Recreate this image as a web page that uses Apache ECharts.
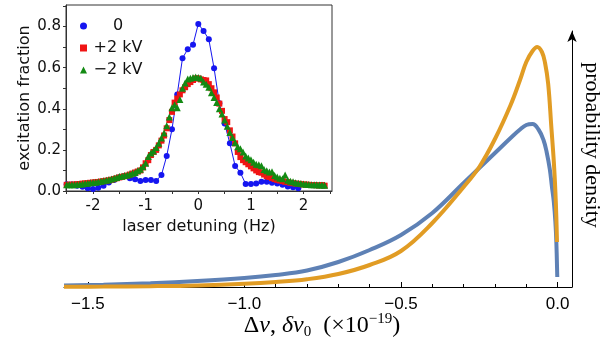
<!DOCTYPE html>
<html>
<head>
<meta charset="utf-8">
<script src="https://cdn.jsdelivr.net/npm/echarts@6/dist/echarts.min.js"></script>
<style>
  html, body { margin: 0; padding: 0; background: #fff; }
  #chart { width: 613px; height: 351px; }
</style>
</head>
<body>
<div id="chart"></div>
<script>
// main plot: frequency shift (x1e-19) vs probability density (arb.)
const shiftBlue = [-1.576, -1.45, -1.3, -1.15, -1.0, -0.9, -0.8, -0.7, -0.6, -0.5, -0.4, -0.3, -0.25, -0.2, -0.15, -0.12, -0.1, -0.08, -0.06, -0.045, -0.035, -0.025, -0.018, -0.012, -0.007, -0.004, -0.001]
const densityBlue = [0.015, 0.023, 0.038, 0.060, 0.090, 0.120, 0.165, 0.250, 0.370, 0.520, 0.740, 1.040, 1.190, 1.340, 1.490, 1.575, 1.620, 1.630, 1.570, 1.470, 1.350, 1.180, 1.000, 0.850, 0.650, 0.450, 0.100]
const shiftOrange = [-1.576, -1.45, -1.3, -1.15, -1.0, -0.9, -0.8, -0.7, -0.6, -0.5, -0.4, -0.3, -0.25, -0.2, -0.15, -0.12, -0.1, -0.08, -0.065, -0.05, -0.04, -0.03, -0.02, -0.012, -0.007, -0.004, -0.002]
const densityOrange = [0.002, 0.004, 0.008, 0.016, 0.032, 0.050, 0.078, 0.130, 0.220, 0.360, 0.640, 1.000, 1.200, 1.480, 1.820, 2.070, 2.250, 2.360, 2.400, 2.350, 2.240, 2.030, 1.600, 1.250, 0.950, 0.700, 0.450]
const shiftTicks = [-1.5, -1.0, -0.5, 0]
const shiftMinorTicks = [-1.4, -1.3, -1.2, -1.1, -0.9, -0.8, -0.7, -0.6, -0.4, -0.3, -0.2, -0.1]

// inset: laser detuning (Hz) vs excitation fraction
const detuningZero = [-2.5, -2.4, -2.3, -2.2, -2.1, -2.0, -1.9, -1.8, -1.7, -1.6, -1.5, -1.4, -1.3, -1.2, -1.1, -1.0, -0.9, -0.8, -0.7, -0.6, -0.5, -0.4, -0.3, -0.2, -0.1, 0.0, 0.1, 0.2, 0.3, 0.4, 0.5, 0.6, 0.7, 0.8, 0.9, 1.0, 1.1, 1.2, 1.3, 1.4, 1.5, 1.6, 1.7, 1.8, 1.9]
const fractionZero = [0.033, 0.032, 0.026, 0.021, 0.013, 0.010, 0.016, 0.026, 0.041, 0.054, 0.067, 0.073, 0.062, 0.057, 0.049, 0.054, 0.054, 0.049, 0.078, 0.170, 0.300, 0.470, 0.646, 0.690, 0.712, 0.813, 0.779, 0.738, 0.597, 0.427, 0.328, 0.232, 0.122, 0.089, 0.034, 0.034, 0.037, 0.045, 0.045, 0.040, 0.036, 0.030, 0.022, 0.018, 0.013]
const detuningKv = [-2.50, -2.45, -2.40, -2.35, -2.30, -2.25, -2.20, -2.15, -2.10, -2.05, -2.00, -1.95, -1.90, -1.85, -1.80, -1.75, -1.70, -1.65, -1.60, -1.55, -1.50, -1.45, -1.40, -1.35, -1.30, -1.25, -1.20, -1.15, -1.10, -1.05, -1.00, -0.95, -0.90, -0.85, -0.80, -0.75, -0.70, -0.65, -0.60, -0.55, -0.50, -0.45, -0.40, -0.35, -0.30, -0.25, -0.20, -0.15, -0.10, -0.05, 0.00, 0.05, 0.10, 0.15, 0.20, 0.25, 0.30, 0.35, 0.40, 0.45, 0.50, 0.55, 0.60, 0.65, 0.70, 0.75, 0.80, 0.85, 0.90, 0.95, 1.00, 1.05, 1.10, 1.15, 1.20, 1.25, 1.30, 1.35, 1.40, 1.45, 1.50, 1.55, 1.60, 1.65, 1.70, 1.75, 1.80, 1.85, 1.90, 1.95, 2.00, 2.05, 2.10, 2.15, 2.20, 2.25, 2.30, 2.35, 2.40]
const fractionPlus = [0.030, 0.031, 0.030, 0.032, 0.033, 0.034, 0.036, 0.037, 0.038, 0.040, 0.041, 0.043, 0.044, 0.046, 0.048, 0.050, 0.052, 0.055, 0.058, 0.062, 0.066, 0.069, 0.072, 0.075, 0.080, 0.085, 0.090, 0.095, 0.100, 0.115, 0.135, 0.150, 0.175, 0.190, 0.200, 0.222, 0.245, 0.270, 0.305, 0.345, 0.385, 0.430, 0.450, 0.470, 0.490, 0.505, 0.520, 0.530, 0.540, 0.548, 0.548, 0.543, 0.540, 0.538, 0.520, 0.500, 0.480, 0.455, 0.425, 0.390, 0.350, 0.335, 0.295, 0.265, 0.232, 0.190, 0.165, 0.150, 0.140, 0.130, 0.120, 0.110, 0.100, 0.092, 0.089, 0.080, 0.072, 0.068, 0.063, 0.058, 0.054, 0.051, 0.048, 0.045, 0.043, 0.040, 0.038, 0.036, 0.035, 0.033, 0.032, 0.031, 0.030, 0.029, 0.029, 0.028, 0.027, 0.029, 0.026]
const fractionMinus = [0.030, 0.030, 0.031, 0.031, 0.032, 0.033, 0.034, 0.036, 0.038, 0.040, 0.041, 0.043, 0.045, 0.047, 0.050, 0.052, 0.055, 0.058, 0.062, 0.066, 0.070, 0.072, 0.075, 0.078, 0.082, 0.086, 0.090, 0.098, 0.106, 0.118, 0.135, 0.168, 0.185, 0.195, 0.212, 0.232, 0.258, 0.282, 0.318, 0.360, 0.405, 0.420, 0.405, 0.445, 0.500, 0.525, 0.545, 0.548, 0.552, 0.555, 0.552, 0.548, 0.530, 0.520, 0.505, 0.478, 0.455, 0.430, 0.400, 0.375, 0.345, 0.315, 0.285, 0.260, 0.235, 0.215, 0.205, 0.190, 0.170, 0.160, 0.152, 0.140, 0.130, 0.128, 0.123, 0.105, 0.098, 0.092, 0.094, 0.075, 0.068, 0.062, 0.060, 0.078, 0.052, 0.048, 0.045, 0.040, 0.038, 0.036, 0.034, 0.033, 0.032, 0.031, 0.030, 0.030, 0.029, 0.029, 0.028]
const detuningTicks = [-2.5, -2.0, -1.5, -1.0, -0.5, 0, 0.5, 1.0, 1.5, 2.0, 2.5]
const detuningLabels = [-2, -1, 0, 1, 2]
const fractionTicks = [0, 0.1, 0.2, 0.3, 0.4, 0.5, 0.6, 0.7, 0.8, 0.9]
const fractionLabels = [0, 0.2, 0.4, 0.6, 0.8]
const legendNames = ['0', '+2 kV', '\u22122 kV']

const THEME = {
  SERIF: 'Liberation Serif',
  SANS: 'Liberation Sans',
  INSET_FONT: 'DejaVu Sans',
  BLUE_CURVE: '#5e81b5',
  ORANGE_CURVE: '#e19c24',
  AXIS: '#000',
  INSET_AXIS: '#333'
}

const zip = (xs, ys) => xs.map((x, i) => [x, ys[i]])

const chart = echarts.init(document.getElementById('chart'), null, { renderer: 'canvas' })

const option = {
  animation: false,
  backgroundColor: '#fff',
  grid: [
    { left: 64, top: 31, width: 508, height: 256 },
    { left: 66, top: 5, width: 266, height: 186, show: true, borderColor: THEME.INSET_AXIS, borderWidth: 1, backgroundColor: 'transparent', z: 5 }
  ],
  xAxis: [
    {
      type: 'value', gridIndex: 0, min: -1.576, max: 0.046, position: 'bottom',
      axisLine: { onZero: false, lineStyle: { color: THEME.AXIS, width: 1 } },
      axisTick: { inside: true, length: 5, customValues: shiftTicks, lineStyle: { color: THEME.AXIS } },
      axisLabel: {
        customValues: shiftTicks, margin: 9, fontSize: 17, fontFamily: THEME.SANS, color: '#000',
        formatter: v => (v < 0 ? '\u2212' + Math.abs(v).toFixed(1) : '0.0')
      },
      splitLine: { show: false }
    },
    {
      type: 'value', gridIndex: 0, min: -1.576, max: 0.046, position: 'bottom',
      axisLine: { show: false, onZero: false },
      axisTick: { inside: true, length: 3, customValues: shiftMinorTicks, lineStyle: { color: THEME.AXIS } },
      axisLabel: { show: false },
      splitLine: { show: false }
    },
    {
      type: 'value', gridIndex: 1, min: -2.513, max: 2.54, position: 'bottom',
      name: 'laser detuning (Hz)', nameLocation: 'middle', nameGap: 25,
      nameTextStyle: { fontSize: 16, fontFamily: THEME.INSET_FONT, color: '#111' },
      axisLine: { onZero: false, lineStyle: { color: THEME.INSET_AXIS } },
      axisTick: { length: 3, customValues: detuningTicks, lineStyle: { color: THEME.INSET_AXIS } },
      axisLabel: { customValues: detuningLabels, margin: 8, fontSize: 15, fontFamily: THEME.INSET_FONT, color: '#111' },
      splitLine: { show: false }
    }
  ],
  yAxis: [
    {
      type: 'value', gridIndex: 0, min: 0, max: 2.56, position: 'right',
      axisLine: { show: true, onZero: false, symbol: ['none', 'arrow'], symbolSize: [7, 11], lineStyle: { color: THEME.AXIS, width: 1 } },
      axisTick: { show: false },
      axisLabel: { show: false },
      splitLine: { show: false }
    },
    {
      type: 'value', gridIndex: 1, min: 0, max: 0.905, position: 'left',
      name: 'excitation fraction', nameLocation: 'middle', nameGap: 33,
      nameTextStyle: { fontSize: 16, fontFamily: THEME.INSET_FONT, color: '#111' },
      axisLine: { show: true, onZero: false, lineStyle: { color: THEME.INSET_AXIS } },
      axisTick: { show: true, length: 3, customValues: fractionTicks, lineStyle: { color: THEME.INSET_AXIS } },
      axisLabel: {
        customValues: fractionLabels, margin: 5, fontSize: 15, fontFamily: THEME.INSET_FONT, color: '#111',
        formatter: v => v.toFixed(1)
      },
      splitLine: { show: false }
    }
  ],
  legend: {
    orient: 'vertical', left: 75, top: 13, itemGap: 6,
    itemWidth: 7, itemHeight: 7,
    data: [
      { name: legendNames[0], icon: 'circle' },
      { name: legendNames[1], icon: 'rect' },
      { name: legendNames[2], icon: 'triangle' }
    ],
    formatter: name => `{c|${name}}`,
    textStyle: {
      rich: { c: { width: 52, align: 'center', fontSize: 16, lineHeight: 16, fontFamily: THEME.INSET_FONT, color: '#111' } }
    }
  },
  series: [
    {
      name: 'blue', type: 'line', xAxisIndex: 0, yAxisIndex: 0,
      data: zip(shiftBlue, densityBlue), showSymbol: false, smooth: 0.4,
      lineStyle: { color: THEME.BLUE_CURVE, width: 4 }, z: 2
    },
    {
      name: 'orange', type: 'line', xAxisIndex: 0, yAxisIndex: 0,
      data: zip(shiftOrange, densityOrange), showSymbol: false, smooth: 0.4,
      lineStyle: { color: THEME.ORANGE_CURVE, width: 4 }, z: 3
    },
    {
      name: legendNames[0], type: 'line', xAxisIndex: 2, yAxisIndex: 1,
      data: zip(detuningZero, fractionZero), symbol: 'circle', symbolSize: 6, showSymbol: true,
      itemStyle: { color: '#1515f0' }, lineStyle: { color: '#1515f0', width: 1 }, z: 6
    },
    {
      name: legendNames[1], type: 'scatter', xAxisIndex: 2, yAxisIndex: 1,
      data: zip(detuningKv, fractionPlus), symbol: 'rect', symbolSize: 6,
      itemStyle: { color: '#f01414', opacity: 1 }, z: 7
    },
    {
      name: legendNames[2], type: 'scatter', xAxisIndex: 2, yAxisIndex: 1,
      data: zip(detuningKv, fractionMinus), symbol: 'triangle', symbolSize: 7,
      itemStyle: { color: '#138a13', opacity: 1 }, z: 8
    }
  ],
  graphic: [
    {
      type: 'text', x: 322, y: 326, z: 10,
      style: {
        text: '{n|\u0394}{i|\u03bd}{n|, }{i|\u03b4\u03bd}{sub|0}{n|  (\u00d710}{sup|\u221219}{n|)}',
        align: 'center', verticalAlign: 'middle',
        rich: {
          n: { fontFamily: THEME.SERIF, fontSize: 24, lineHeight: 28, color: '#000' },
          i: { fontFamily: THEME.SERIF, fontSize: 24, lineHeight: 28, fontStyle: 'italic', color: '#000' },
          sub: { fontFamily: THEME.SERIF, fontSize: 15, lineHeight: 15, verticalAlign: 'bottom', color: '#000' },
          sup: { fontFamily: THEME.SERIF, fontSize: 15, lineHeight: 15, verticalAlign: 'top', color: '#000' }
        }
      }
    },
    {
      type: 'text', x: 592, y: 145, rotation: -Math.PI / 2, z: 10,
      style: {
        text: 'probability density', align: 'center', verticalAlign: 'middle',
        fontFamily: THEME.SERIF, fontSize: 22, fill: '#000'
      }
    }
  ]
}

chart.setOption(option)
</script>
</body>
</html>
